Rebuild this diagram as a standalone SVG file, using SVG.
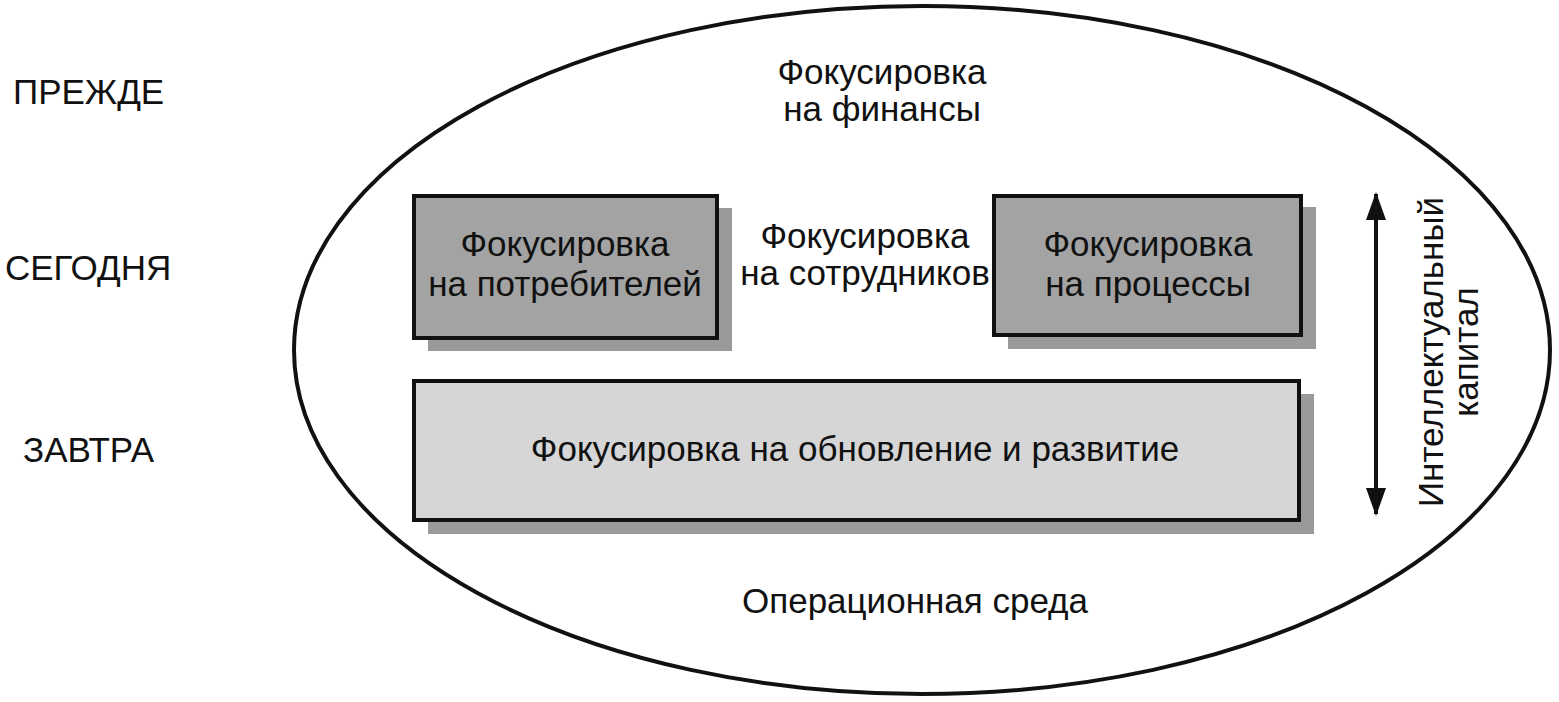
<svg xmlns="http://www.w3.org/2000/svg" width="1559" height="702" viewBox="0 0 1559 702">
  <defs>
    <style>
      .t { font-family: "Liberation Sans", Arial, sans-serif; fill: #111; font-size: 35px; }
      .c { text-anchor: middle; }
      .box { stroke: #111; stroke-width: 4; }
      .shadow { fill: #9a9a9a; }
      .conn { stroke: #111; stroke-width: 4; fill: none; }
    </style>
    <marker id="arrow" viewBox="0 0 28 20" refX="26" refY="10" markerWidth="28" markerHeight="20" markerUnits="userSpaceOnUse" orient="auto-start-reverse">
      <path d="M0,0 L28,10 L0,20 Z" fill="#111"/>
    </marker>
  </defs>
  <rect width="1559" height="702" fill="#fff"/>

  <g id="row-labels">
    <text class="t" x="13" y="104" font-size="36.5">ПРЕЖДЕ</text>
    <text class="t" x="5" y="280" font-size="36.5">СЕГОДНЯ</text>
    <text class="t" x="23" y="462" font-size="36.5">ЗАВТРА</text>
  </g>

  <g id="environment">
    <ellipse cx="922" cy="350" rx="628" ry="344" fill="none" stroke="#111" stroke-width="4"/>
    <text class="t c" x="915" y="613">Операционная среда</text>
  </g>

  <g id="finance">
    <text class="t c" x="882" y="84">Фокусировка</text>
    <text class="t c" x="882" y="121">на финансы</text>
  </g>

  <g id="employees">
    <text class="t c" x="865" y="248">Фокусировка</text>
    <text class="t c" x="865" y="285">на сотрудников</text>
  </g>

  <g id="customers">
    <rect class="shadow" x="428" y="208" width="304" height="143"/>
    <rect class="box" x="414" y="196" width="303" height="142" fill="#a3a3a3"/>
    <text class="t c" x="565" y="256">Фокусировка</text>
    <text class="t c" x="565" y="296">на потребителей</text>
  </g>

  <g id="processes">
    <rect class="shadow" x="1008" y="207" width="308" height="142"/>
    <rect class="box" x="994" y="196" width="307" height="139" fill="#a3a3a3"/>
    <text class="t c" x="1148" y="256">Фокусировка</text>
    <text class="t c" x="1148" y="296">на процессы</text>
  </g>

  <g id="renewal">
    <rect class="shadow" x="428" y="394" width="886" height="140" fill="#8f8f8f"/>
    <rect class="box" x="414" y="381" width="885" height="139" fill="#d6d6d6"/>
    <text class="t c" x="855" y="461">Фокусировка на обновление и развитие</text>
  </g>

  <g id="connectors">
    <line class="conn" x1="1376" y1="194" x2="1376" y2="514" marker-start="url(#arrow)" marker-end="url(#arrow)"/>
  </g>

  <g id="capital">
    <text class="t c" transform="translate(1443,352) rotate(-90)" x="0" y="0">Интеллектуальный</text>
    <text class="t c" transform="translate(1478,352) rotate(-90)" x="0" y="0">капитал</text>
  </g>
</svg>
